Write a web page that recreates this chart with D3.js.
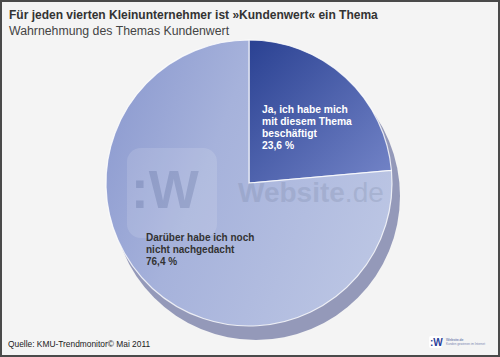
<!DOCTYPE html>
<html><head><meta charset="utf-8">
<script src="https://cdn.jsdelivr.net/npm/d3@7"></script>
<style>html,body{margin:0;padding:0;background:#f4f4f4;}svg{display:block;font-family:"Liberation Sans",Arial,sans-serif;}</style>
</head><body>
<script>
const title = "Für jeden vierten Kleinunternehmer ist »Kundenwert« ein Thema";
const subtitle = "Wahrnehmung des Themas Kundenwert";
const source = "Quelle: KMU-Trendmonitor© Mai 2011";
const categories = ["Ja, ich habe mich mit diesem Thema beschäftigt", "Darüber habe ich noch nicht nachgedacht"];
const labelLines = [["Ja, ich habe mich", "mit diesem Thema", "beschäftigt"], ["Darüber habe ich noch", "nicht nachgedacht"]];
const values = [23.6, 76.4];
const valueLabels = ["23,6 %", "76,4 %"];

const W = 500, H = 357;
const svg = d3.select("body").append("svg").attr("width", W).attr("height", H);
const defs = svg.append("defs");
const g1 = defs.append("linearGradient").attr("id","gDark").attr("x1","0").attr("y1","0").attr("x2","1").attr("y2","1");
g1.append("stop").attr("offset","0").attr("stop-color","#2a4192");
g1.append("stop").attr("offset","1").attr("stop-color","#7485c8");
const g2 = defs.append("linearGradient").attr("id","gLight").attr("x1","0").attr("y1","0.3").attr("x2","1").attr("y2","0.7");
g2.append("stop").attr("offset","0").attr("stop-color","#8f9dd1");
g2.append("stop").attr("offset","0.35").attr("stop-color","#a6b2db");
g2.append("stop").attr("offset","1").attr("stop-color","#bcc6e4");

svg.append("rect").attr("x",1).attr("y",1).attr("width",W-2).attr("height",H-2)
  .attr("fill","#f4f4f4").attr("stroke","#4a4a4a").attr("stroke-width",2);

svg.append("text").attr("x",9).attr("y",19).attr("font-size",12).attr("font-weight","bold").attr("fill","#333").text(title);
svg.append("text").attr("x",9).attr("y",35).attr("font-size",12.3).attr("fill","#444").text(subtitle);

const cx = 249, cy = 183, r = 143;
// shadow / depth
svg.append("circle").attr("cx",cx+7).attr("cy",cy+13).attr("r",r+1).attr("fill","#9499b9");

const pie = d3.pie().sort(null).value(d => d)(values);
const arc = d3.arc().innerRadius(0).outerRadius(r);
const pg = svg.append("g").attr("transform",`translate(${cx},${cy})`);
pg.selectAll("path").data(pie).join("path")
  .attr("d", arc)
  .attr("fill",(d,i)=> i===0 ? "url(#gDark)" : "url(#gLight)")
  .attr("stroke","#ffffff").attr("stroke-width",1.2).attr("stroke-opacity",0.8);

// watermark
const wm = svg.append("g").attr("opacity",0.16);
wm.append("rect").attr("x",127).attr("y",148).attr("width",90).attr("height",90).attr("rx",14).attr("fill","#ffffff").attr("opacity",0.8);
wm.append("text").attr("x",131).attr("y",208).attr("font-size",53).attr("font-weight","bold").attr("fill","#55627f").text(":W");
const wt = wm.append("text").attr("x",238).attr("y",202).attr("font-size",28).attr("fill","#55627f");
wt.append("tspan").attr("font-weight","bold").text("Website");
wt.append("tspan").attr("font-weight","normal").text(".de");

// labels
const lab = [{x:262,y:112.5,color:"#ffffff",fs:10.3},{x:146,y:240.5,color:"#333333",fs:10}];
lab.forEach((p,i)=>{
  const t = svg.append("text").attr("font-size",p.fs).attr("fill",p.color).attr("font-weight","bold");
  const lines = labelLines[i].concat([valueLabels[i]]);
  lines.forEach((l,j)=>{
    t.append("tspan").attr("x",p.x).attr("y",p.y + j*12.3).text(l);
  });
});

svg.append("text").attr("x",8).attr("y",347).attr("font-size",8.4).attr("fill","#222").text(source);

// small logo
const lg = svg.append("g");
lg.append("rect").attr("x",429).attr("y",336).attr("width",13).attr("height",12).attr("rx",2).attr("fill","#fff");
lg.append("text").attr("x",430).attr("y",346).attr("font-size",10).attr("font-weight","bold").attr("fill","#2a3f9a").text(":W");
lg.append("text").attr("x",446).attr("y",341).attr("font-size",3.5).attr("fill","#4a5a9a").text("Website.de");
lg.append("text").attr("x",446).attr("y",345).attr("font-size",3).attr("fill","#7a85b0").text("Kunden gewinnen im Internet");
</script>
</body></html>
